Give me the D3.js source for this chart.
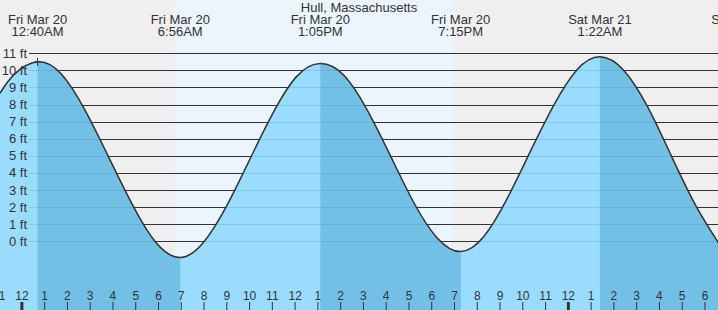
<!DOCTYPE html>
<html>
<head>
<meta charset="utf-8">
<script src="https://cdn.jsdelivr.net/npm/d3@7"></script>
<style>
  body { margin: 0; background: #fff; }
  svg { display: block; font-family: "Liberation Sans", Arial, sans-serif; }
</style>
</head>
<body>
<div id="chart"></div>
<script>
const title = "Hull, Massachusetts";

// high / low tide times
const extremeTimes = ["2015-03-20T00:40", "2015-03-20T06:56", "2015-03-20T13:05",
  "2015-03-20T19:15", "2015-03-21T01:22", "2015-03-21T07:39"];
const extremeTypes = ["H", "L", "H", "L", "H", "L"];

// daylight
const sunrise = "2015-03-20T06:42";
const sunset = "2015-03-20T18:52";

// water level readings (ft)
const readTimes = [
  "2015-03-19T23:01", "2015-03-19T23:38", "2015-03-20T00:40", "2015-03-20T01:43",
  "2015-03-20T02:45", "2015-03-20T03:48", "2015-03-20T04:51", "2015-03-20T05:53",
  "2015-03-20T06:56", "2015-03-20T07:57", "2015-03-20T08:59", "2015-03-20T10:00",
  "2015-03-20T11:02", "2015-03-20T12:03", "2015-03-20T13:05", "2015-03-20T14:07",
  "2015-03-20T15:08", "2015-03-20T16:10", "2015-03-20T17:12", "2015-03-20T18:13",
  "2015-03-20T19:15", "2015-03-20T20:16", "2015-03-20T21:17", "2015-03-20T22:18",
  "2015-03-20T23:20", "2015-03-21T00:21", "2015-03-21T01:22", "2015-03-21T02:25",
  "2015-03-21T03:28", "2015-03-21T04:30", "2015-03-21T05:33", "2015-03-21T06:36"];
const readFeet = [
  8.66, 9.75, 10.5, 9.78,
  7.68, 4.9, 2.1, -0.1,
  -0.95, -0.07, 2.1, 4.83,
  7.57, 9.65, 10.4, 9.71,
  7.71, 5.0, 2.24, 0.2,
  -0.6, 0.28, 2.48, 5.23,
  7.95, 10.03, 10.8, 10.0,
  7.85, 5.0, 2.15, -0.15];

const feetTicks = [0, 1, 2, 3, 4, 5, 6, 7, 8, 9, 10, 11];
const firstHour = "2015-03-19T23:00";

const width = 718;
const height = 310;
const parse = d3.timeParse("%Y-%m-%dT%H:%M");

const x = d3.scaleTime()
  .domain([parse("2015-03-19T23:01"), parse("2015-03-21T06:33")])
  .range([0, width]);
const y = d3.scaleLinear().domain([0, 11]).range([241.3, 53.3]);

const svg = d3.select("#chart").append("svg")
  .attr("width", width)
  .attr("height", height);

/* Night / day background */
svg.append("rect")
  .attr("width", width).attr("height", height)
  .attr("fill", "#efefef");
svg.append("rect")
  .attr("x", x(parse(sunrise)))
  .attr("width", x(parse(sunset)) - x(parse(sunrise)))
  .attr("height", height)
  .attr("fill", "#ebf5fe");

/* Grid */
svg.append("g")
  .selectAll("line")
  .data(feetTicks)
  .join("line")
  .attr("x1", 29).attr("x2", width)
  .attr("y1", (d) => Math.round(y(d)) + 0.5)
  .attr("y2", (d) => Math.round(y(d)) + 0.5)
  .attr("stroke", "#333");

/* Water */
const pts = readTimes.map((t, i) => [parse(t), readFeet[i]]);
const area = d3.area()
  .x((d) => x(d[0]))
  .y0(height)
  .y1((d) => y(d[1]))
  .curve(d3.curveNatural);
const line = d3.line()
  .x((d) => x(d[0]))
  .y((d) => y(d[1]))
  .curve(d3.curveNatural);

svg.append("clipPath").attr("id", "water")
  .append("path").attr("d", area(pts));

const water = svg.append("g").attr("clip-path", "url(#water)");
water.append("rect")
  .attr("width", width).attr("height", height)
  .attr("fill", "#99dcfe");

// ebb: from each high to the following low
const ebbs = extremeTimes
  .map((t, i) => [t, extremeTimes[i + 1], extremeTypes[i]])
  .filter((d) => d[2] === "H");
water.selectAll("rect.ebb")
  .data(ebbs)
  .join("rect")
  .attr("class", "ebb")
  .attr("x", (d) => x(parse(d[0])))
  .attr("width", (d) => x(parse(d[1])) - x(parse(d[0])))
  .attr("height", height)
  .attr("fill", "#72c0e6");

water.selectAll("line")
  .data(feetTicks)
  .join("line")
  .attr("x1", 29).attr("x2", width)
  .attr("y1", (d) => Math.round(y(d)) + 0.5)
  .attr("y2", (d) => Math.round(y(d)) + 0.5)
  .attr("stroke", "#1b6a9a")
  .attr("stroke-opacity", 0.18);

svg.append("path")
  .attr("d", line(pts))
  .attr("fill", "none")
  .attr("stroke", "#333")
  .attr("stroke-width", 1.5);

/* Marker on first high */
const mx = x(parse(extremeTimes[0]));
const my = y(readFeet[readTimes.indexOf(extremeTimes[0])]);
svg.append("path")
  .attr("d", `M${mx},${my - 4}V${my + 4}M${mx - 3},${my}H${mx + 3}`)
  .attr("stroke", "#333");

/* Y labels */
svg.append("g")
  .selectAll("text")
  .data(feetTicks)
  .join("text")
  .attr("x", 27)
  .attr("y", (d) => y(d))
  .attr("dy", "0.35em")
  .attr("text-anchor", "end")
  .attr("font-size", 13)
  .attr("fill", "#333")
  .text((d) => d + " ft");

/* Hour axis */
const hours = d3.timeHour.range(parse(firstHour), x.domain()[1]);
const hourAxis = svg.append("g")
  .attr("transform", `translate(-1,${height})`)
  .call(d3.axisTop(x)
    .tickValues(hours)
    .tickFormat(d3.timeFormat("%-I"))
    .tickSize(8)
    .tickPadding(2))
  .call((g) => g.select(".domain").remove());
hourAxis.attr("font-family", null).attr("font-size", 12);
hourAxis.selectAll("text").attr("fill", "#333");
hourAxis.selectAll(".tick line")
  .attr("stroke", "#333")
  .attr("stroke-width", (d) => (d.getHours() === 0 ? 3 : 1));

/* Title and tide labels */
svg.append("text")
  .attr("x", width / 2)
  .attr("y", 12)
  .attr("text-anchor", "middle")
  .attr("font-size", 13)
  .attr("fill", "#333")
  .text(title);

const dayFmt = d3.timeFormat("%a %b %-d");
const timeFmt = d3.timeFormat("%-I:%M%p");
const labels = svg.append("g")
  .selectAll("g")
  .data(extremeTimes)
  .join("g")
  .attr("transform", (d) => `translate(${x(parse(d))},0)`)
  .attr("text-anchor", "middle")
  .attr("font-size", 13)
  .attr("fill", "#333");
labels.append("text").attr("y", 24).text((d) => dayFmt(parse(d)));
labels.append("text").attr("y", 36).text((d) => timeFmt(parse(d)));
</script>
</body>
</html>
